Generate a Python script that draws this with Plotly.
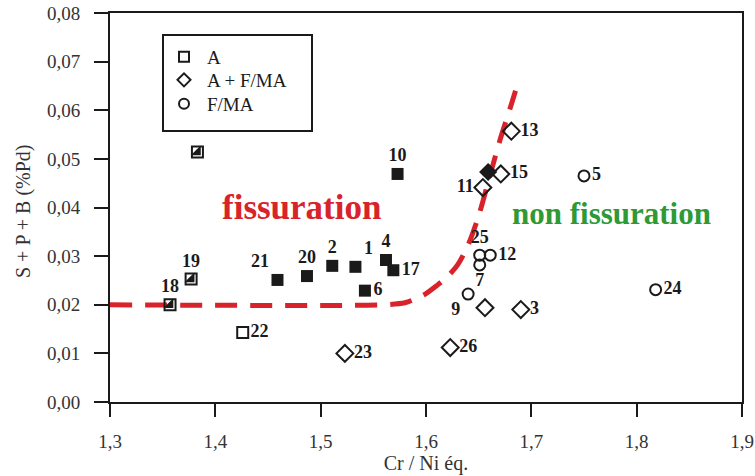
import plotly.graph_objects as go

# ---------------- data ----------------
# Series A (austenitic)
a_x = [1.357, 1.377, 1.383, 1.459, 1.487, 1.511, 1.533, 1.562, 1.569, 1.542, 1.573, 1.426]
a_y = [0.0200, 0.0253, 0.0514, 0.0251, 0.0259, 0.0280, 0.0278, 0.0292, 0.0271, 0.0229, 0.0469, 0.0143]
a_lab = ["18", "19", "", "21", "20", "2", "1", "4", "17", "6", "10", "22"]
a_fill = ["half", "half", "half", "full", "full", "full", "full", "full", "full", "full", "full", "open"]

# Series A + F/MA
b_x = [1.523, 1.623, 1.690, 1.656, 1.681, 1.671, 1.659, 1.654]
b_y = [0.0100, 0.0112, 0.0190, 0.0194, 0.0557, 0.0469, 0.0473, 0.0441]
b_lab = ["23", "26", "3", "", "13", "15", "", "11"]
b_fill = ["open", "open", "open", "open", "open", "open", "full", "open"]

# Series F/MA
c_x = [1.750, 1.818, 1.651, 1.661, 1.651, 1.640]
c_y = [0.0465, 0.0231, 0.0302, 0.0302, 0.0282, 0.0222]
c_lab = ["5", "24", "25", "12", "7", "9"]

# Boundary curve (fissuration / non fissuration)
curve_x = [1.30, 1.56, 1.58, 1.59, 1.60, 1.61, 1.62, 1.63, 1.64, 1.65, 1.66, 1.67, 1.68, 1.685]
curve_y = [0.020, 0.020, 0.0204, 0.0212, 0.0223, 0.0239, 0.0257, 0.0282, 0.0323, 0.0383, 0.0460, 0.0537, 0.0605, 0.0640]

x_ticks = [1.3, 1.4, 1.5, 1.6, 1.7, 1.8, 1.9]
y_ticks = [0.00, 0.01, 0.02, 0.03, 0.04, 0.05, 0.06, 0.07, 0.08]

legend_names = ["A", "A + F/MA", "F/MA"]
x_title = "Cr / Ni éq."
y_title = "S + P + B (%Pd)"

# ---------------- styles ----------------
a_pos = {"18": "top center", "19": "top center", "21": "top left", "20": "top center",
         "2": "top center", "1": "top right", "4": "top center", "17": "middle right",
         "6": "middle right", "10": "top center", "22": "middle right", "": "middle right"}
b_pos = {"23": "middle right", "26": "middle right", "3": "middle right", "13": "middle right",
         "15": "middle right", "11": "middle left", "": "middle right"}
c_pos = {"5": "middle right", "24": "middle right", "25": "top center", "12": "middle right",
         "7": "bottom center", "9": "bottom left"}

SERIF = "Liberation Serif"
INK = "#1a1a1a"
GREY = "#333333"
RED = "#d9232b"
GREEN = "#2f9a35"
lab_font = dict(family=SERIF, size=18, color=INK)

# plot-area geometry in pixels
L, R, T, B = 110, 13, 13, 74
W, H = 755, 476
PW, PH = W - L - R, H - T - B


def bold(labels):
    return ["<b>%s</b>" % t if t else "" for t in labels]


def subset(xs, ys, labs, fills, keep):
    idx = [i for i, f in enumerate(fills) if f in keep]
    return [xs[i] for i in idx], [ys[i] for i in idx], [labs[i] for i in idx]


def px_to_paper(px, py):
    return (px - L) / PW, 1 - (py - T) / PH


fig = go.Figure()

# boundary curve
fig.add_trace(go.Scatter(x=curve_x, y=curve_y, mode="lines", line_shape="spline",
                         line=dict(color=RED, width=5, dash="22px,13px", smoothing=0.8),
                         showlegend=False, hoverinfo="skip"))

# Series A markers + labels
x, y, l = subset(a_x, a_y, a_lab, a_fill, ("full",))
fig.add_trace(go.Scatter(x=x, y=y, mode="markers+text", text=bold(l), showlegend=False,
                         textposition=[a_pos[t] for t in l], textfont=lab_font,
                         marker=dict(symbol="square", size=12, color=INK, line=dict(width=0))))
x, y, l = subset(a_x, a_y, a_lab, a_fill, ("half", "open"))
fig.add_trace(go.Scatter(x=x, y=y, mode="markers+text", text=bold(l), showlegend=False,
                         textposition=[a_pos[t] for t in l], textfont=lab_font,
                         marker=dict(symbol="square-open", size=11, color=INK, line=dict(width=2))))
x, y, l = subset(a_x, a_y, a_lab, a_fill, ("half",))
fig.add_trace(go.Scatter(x=x, y=y, mode="markers", showlegend=False,
                         marker=dict(symbol="triangle-se", size=11, color=INK, line=dict(width=0))))

# Series A + F/MA
x, y, l = subset(b_x, b_y, b_lab, b_fill, ("open",))
fig.add_trace(go.Scatter(x=x, y=y, mode="markers+text", text=bold(l), showlegend=False,
                         textposition=[b_pos[t] for t in l], textfont=lab_font,
                         marker=dict(symbol="diamond-open", size=13, color=INK, line=dict(width=2))))
x, y, l = subset(b_x, b_y, b_lab, b_fill, ("full",))
fig.add_trace(go.Scatter(x=x, y=y, mode="markers", showlegend=False,
                         marker=dict(symbol="diamond", size=14, color=INK, line=dict(width=0))))

# Series F/MA
fig.add_trace(go.Scatter(x=c_x, y=c_y, mode="markers+text", text=bold(c_lab), showlegend=False,
                         textposition=[c_pos[t] for t in c_lab], textfont=lab_font,
                         marker=dict(symbol="circle-open", size=11, color=INK, line=dict(width=2))))

# legend entries (one small legend per row)
legend_syms = ["square-open", "diamond-open", "circle-open"]
legend_ids = ["legend", "legend2", "legend3"]
for name, sym, lid in zip(legend_names, legend_syms, legend_ids):
    fig.add_trace(go.Scatter(x=[None], y=[None], mode="markers", name=name, legend=lid,
                             marker=dict(symbol=sym, size=10, color=INK, line=dict(width=2))))

# region annotations
fig.add_annotation(x=1.482, y=0.0400, text="<b>fissuration</b>", showarrow=False,
                   font=dict(family=SERIF, size=35, color=RED))
fig.add_annotation(x=1.776, y=0.0387, text="<b>non fissuration</b>", showarrow=False,
                   font=dict(family=SERIF, size=31, color=GREEN))

# y axis title
tx, ty = px_to_paper(23, 211)
fig.add_annotation(xref="paper", yref="paper", x=tx, y=ty, text=y_title, textangle=-90,
                   showarrow=False, xanchor="center", yanchor="middle",
                   font=dict(family=SERIF, size=20, color=GREY))

# legend box (pixel layout 163..312 x 35..131)
bx0, by1 = px_to_paper(163, 35)
bx1, by0 = px_to_paper(312, 131)
fig.add_shape(type="rect", xref="paper", yref="paper", x0=bx0, x1=bx1, y0=by0, y1=by1,
              line=dict(color=INK, width=2), fillcolor="rgba(0,0,0,0)")

axis_common = dict(showline=True, linecolor=INK, linewidth=2, mirror=True, ticks="outside",
                   tickcolor=INK, tickwidth=2, showgrid=False, zeroline=False, automargin=False,
                   ticklabeloverflow="allow",
                   tickfont=dict(family=SERIF, size=19, color=GREY))

lx, _ = px_to_paper(161, 0)
leg_common = dict(x=lx, xanchor="left", yanchor="middle", bgcolor="rgba(0,0,0,0)",
                  borderwidth=0, font=dict(family=SERIF, size=19, color=INK), itemwidth=36)

fig.update_layout(
    width=W, height=H,
    margin=dict(l=L, r=R, t=T, b=B),
    paper_bgcolor="white", plot_bgcolor="white",
    separators=", ",
    xaxis=dict(range=[1.3, 1.9], tickvals=x_ticks, tickformat=".1f", ticklen=13, ticklabelstandoff=8,
               title=dict(text=x_title, font=dict(family=SERIF, size=20, color=GREY), standoff=5),
               **axis_common),
    yaxis=dict(range=[0, 0.08], tickvals=y_ticks, tickformat=".2f", ticklen=14, ticklabelstandoff=10,
               **axis_common),
    legend=dict(y=px_to_paper(0, 57)[1], **leg_common),
    legend2=dict(y=px_to_paper(0, 80)[1], **leg_common),
    legend3=dict(y=px_to_paper(0, 104)[1], **leg_common),
)

fig.write_html("out.html", config={"displayModeBar": False},
               post_script="document.body.style.margin='0px';")
